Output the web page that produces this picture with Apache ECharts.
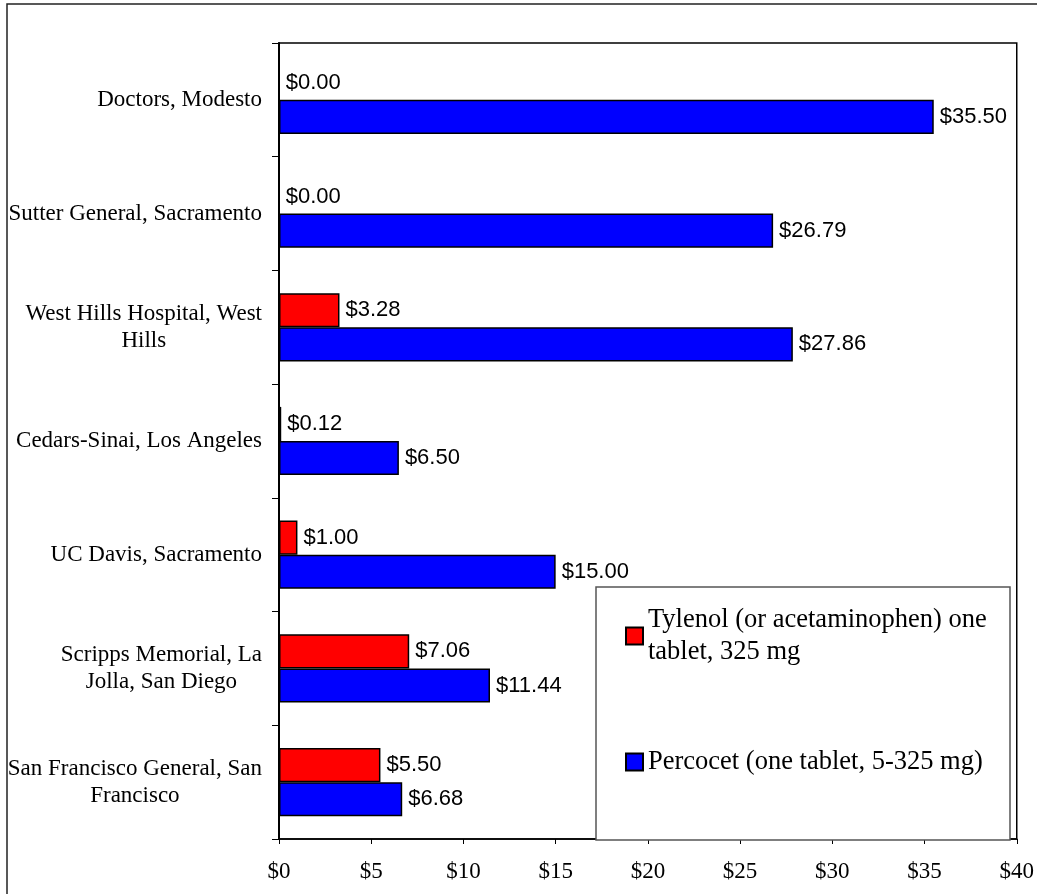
<!DOCTYPE html>
<html>
<head>
<meta charset="utf-8">
<script src="https://cdn.jsdelivr.net/npm/echarts@6/dist/echarts.min.js"></script>
<style>html,body{margin:0;padding:0;background:#fff;}#c{width:1037px;height:894px;}</style>
</head>
<body>
<div id="c"></div>
<script>
const categories = [
  'San Francisco General, San\nFrancisco',
  'Scripps Memorial, La\nJolla, San Diego',
  'UC Davis, Sacramento',
  'Cedars-Sinai, Los Angeles',
  'West Hills Hospital, West\nHills',
  'Sutter General, Sacramento',
  'Doctors, Modesto'
];
const tylenolName = 'Tylenol (or acetaminophen) one tablet, 325 mg';
const percocetName = 'Percocet (one tablet, 5-325 mg)';
const tylenol = [5.50, 7.06, 1.00, 0.12, 3.28, 0.00, 0.00];
const percocet = [6.68, 11.44, 15.00, 6.50, 27.86, 26.79, 35.50];
const xTicks = { min: 0, max: 40, interval: 5 };

const chart = echarts.init(document.getElementById('c'));
const serif = 'Liberation Serif';
const sans = 'Liberation Sans';
const valueLabel = {
  show: true, position: 'right', distance: 6,
  fontFamily: sans, fontSize: 22, color: '#000',
  formatter: p => '$' + p.value.toFixed(2)
};
chart.setOption({
  animation: false,
  backgroundColor: '#fff',
  grid: { left: 279, right: 17, top: 43, bottom: 55, show: true, borderColor: '#000', borderWidth: 1.5, containLabel: false },
  graphic: [
    { type: 'rect', z: 0, silent: true, shape: { x: 7, y: 4, width: 1040, height: 900 }, style: { fill: 'none', stroke: '#222', lineWidth: 1.5 } },
    { type: 'rect', z: 3, silent: true, shape: { x: 596, y: 587, width: 414, height: 253 }, style: { fill: '#fff', stroke: '#555', lineWidth: 1.5 } }
  ],
  legend: {
    orient: 'vertical', left: 625, top: 588, z: 4, padding: 0,
    icon: 'rect', itemWidth: 17, itemHeight: 17, itemGap: 62,
    textStyle: { fontFamily: serif, fontSize: 26.5, color: '#000', lineHeight: 32 },
    data: [
      { name: tylenolName, textStyle: { padding: [32, 0, 0, 0] } },
      { name: percocetName }
    ],
    formatter: n => n === tylenolName ? 'Tylenol (or acetaminophen) one\ntablet, 325 mg' : n
  },
  xAxis: {
    type: 'value', min: xTicks.min, max: xTicks.max, interval: xTicks.interval,
    splitLine: { show: false },
    axisLine: { show: true, lineStyle: { color: '#000', width: 1.5 } },
    axisTick: { show: true, length: 5, lineStyle: { color: '#000' } },
    axisLabel: { margin: 21, fontFamily: serif, fontSize: 23, color: '#000', formatter: v => '$' + v }
  },
  yAxis: {
    type: 'category', data: categories,
    axisLine: { show: true, lineStyle: { color: '#000', width: 2 } },
    axisTick: { show: true, length: 7, lineStyle: { color: '#000' } },
    axisLabel: {
      margin: 17, fontFamily: serif, fontSize: 23, color: '#000', align: 'right',
      formatter: v => v.split('\n').map(l => '{c|' + l + '}').join('\n'),
      rich: { c: { align: 'center', fontFamily: serif, fontSize: 23, color: '#000', lineHeight: 27 } }
    }
  },
  series: [
    { name: tylenolName, type: 'bar', data: tylenol, barGap: '0%', barCategoryGap: '40%',
      itemStyle: { color: '#FF0000', borderColor: '#000', borderWidth: 1.5 }, label: valueLabel },
    { name: percocetName, type: 'bar', data: percocet, barGap: '0%', barCategoryGap: '40%',
      itemStyle: { color: '#0000FF', borderColor: '#000', borderWidth: 1.5 }, label: valueLabel }
  ]
});
</script>
</body>
</html>
